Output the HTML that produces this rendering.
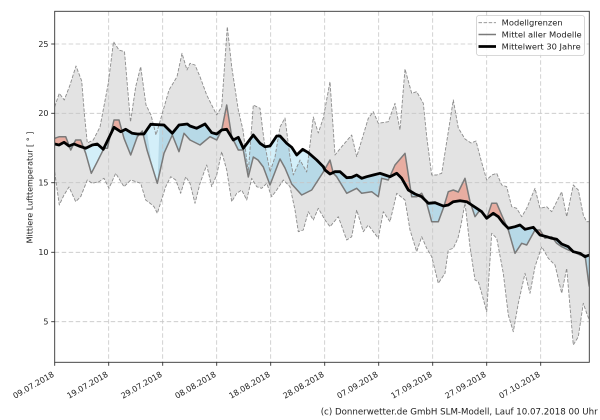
<!DOCTYPE html>
<html>
<head>
<meta charset="utf-8">
<style>
html,body{margin:0;padding:0;background:#fff;}
svg{display:block;}
text{font-family:"DejaVu Sans","Liberation Sans",sans-serif;fill:#222;}
</style>
</head>
<body>
<svg width="600" height="420" viewBox="0 0 600 420" xmlns="http://www.w3.org/2000/svg">
<defs>
<clipPath id="plot"><rect x="54.7" y="11.3" width="534.6" height="351"/></clipPath>
<clipPath id="aboveClim"><polygon points="54.7,144 59,145 64,142.3 69,146 74,144 79,146 85.7,148.3 92.3,145 97.3,144 103.3,149.3 114,127.3 120.7,131.7 125.7,129.3 132.3,133.3 137.3,134 144,134 150.7,124.3 164,125 172.3,133.3 179,125 187.3,124 190,126 196.7,128.3 205,124 211.7,132.7 216.7,134 221.7,130 226.7,129.3 233.3,140 238.3,137.3 243.3,148.3 253.3,135 260,143.3 265,146.7 270,146 276.7,136 280,136 286.7,143.3 291.7,147.3 296.7,155 302.7,149.3 308.3,152.7 316.7,160 323.3,166.7 325,170 330,174 335,171.7 340,171.7 346.7,177.7 351.7,177.3 356.7,175 361.7,178.3 366.7,176.7 373.3,175 380,173.3 385,175 390,176.7 396.7,173.3 401.7,178.3 408.3,190 415,194 421.7,196.7 428.3,203.3 435,202.7 443.3,206 448.3,205 453.3,201.7 460,200.7 466.7,201.7 471.7,205 476.7,208.3 481.7,211.7 486.7,218.3 493.3,213.3 498.3,216.7 503.3,223.3 508.3,228.3 515,226.7 520,225 525,229.3 533.3,227.3 540,235 546.7,236.7 551.7,238.3 556.7,239.3 561.7,244 568.3,246.7 573.3,251.7 580,253.3 585,256.7 589.3,255 589.3,0 54.7,0"/></clipPath>
<clipPath id="belowClim"><polygon points="54.7,144 59,145 64,142.3 69,146 74,144 79,146 85.7,148.3 92.3,145 97.3,144 103.3,149.3 114,127.3 120.7,131.7 125.7,129.3 132.3,133.3 137.3,134 144,134 150.7,124.3 164,125 172.3,133.3 179,125 187.3,124 190,126 196.7,128.3 205,124 211.7,132.7 216.7,134 221.7,130 226.7,129.3 233.3,140 238.3,137.3 243.3,148.3 253.3,135 260,143.3 265,146.7 270,146 276.7,136 280,136 286.7,143.3 291.7,147.3 296.7,155 302.7,149.3 308.3,152.7 316.7,160 323.3,166.7 325,170 330,174 335,171.7 340,171.7 346.7,177.7 351.7,177.3 356.7,175 361.7,178.3 366.7,176.7 373.3,175 380,173.3 385,175 390,176.7 396.7,173.3 401.7,178.3 408.3,190 415,194 421.7,196.7 428.3,203.3 435,202.7 443.3,206 448.3,205 453.3,201.7 460,200.7 466.7,201.7 471.7,205 476.7,208.3 481.7,211.7 486.7,218.3 493.3,213.3 498.3,216.7 503.3,223.3 508.3,228.3 515,226.7 520,225 525,229.3 533.3,227.3 540,235 546.7,236.7 551.7,238.3 556.7,239.3 561.7,244 568.3,246.7 573.3,251.7 580,253.3 585,256.7 589.3,255 589.3,420 54.7,420"/></clipPath>
<clipPath id="aboveUpper"><polygon points="54.7,106.7 59.3,93.3 64.3,100 70,85 76,66 81.7,81 84.5,115 87.3,143 93.3,140 100,127 108.3,83.3 113.5,41.7 119,50 124.5,51.7 130.5,122 135.7,86.7 140.7,66.7 146,105 151,115 156,135 161,118 169,90 177,76.7 182,53.3 187,70 190,63.3 195,65 200,76.7 206.7,95 216.7,115 221.7,106.7 227.3,26.7 231.7,66.7 238.3,110 243,130 248.3,172 253.3,105 260,108.3 264,140 270,172 275,157 280,127 285,118 290,157 293.3,175 300,160 306.7,172 313.3,117 318.3,133 323.3,118 330,81.7 335,155 341.7,146.7 351.7,135 356.7,156.7 368.3,118.3 373.3,111.7 378.3,123.3 388.3,121.7 395,103.3 400,130 405,69 411.7,93.3 416.7,91.7 423.3,103.3 426.7,136.7 431.7,175 436.7,175 441.7,173.3 448.3,131.7 453.3,100 458.3,128 465,139 471,143 476,141 481,160 486.7,180 491.7,175 496.7,173.3 501.7,185 506.7,186.7 511.7,206.7 516.7,208.3 521.7,216.7 526.7,208.3 535,188.3 540,208.3 546.7,206.7 551.7,211.7 561.7,191.7 566.7,216.7 573.3,185 578.3,190 583.3,215 586.7,221.7 589.3,221.7 589.3,0 54.7,0"/></clipPath>
<clipPath id="lightMask">
<rect x="84" y="0" width="23" height="420"/>
<polygon points="144,110 160,110 157.5,185 151,160"/>
</clipPath>
</defs>

<!-- gray model band -->
<g clip-path="url(#plot)">
<polygon fill="#e3e3e3" points="54.7,106.7 59.3,93.3 64.3,100 70,85 76,66 81.7,81 84.5,115 87.3,143 93.3,140 100,127 108.3,83.3 113.5,41.7 119,50 124.5,51.7 130.5,122 135.7,86.7 140.7,66.7 146,105 151,115 156,135 161,118 169,90 177,76.7 182,53.3 187,70 190,63.3 195,65 200,76.7 206.7,95 216.7,115 221.7,106.7 227.3,26.7 231.7,66.7 238.3,110 243,130 248.3,172 253.3,105 260,108.3 264,140 270,172 275,157 280,127 285,118 290,157 293.3,175 300,160 306.7,172 313.3,117 318.3,133 323.3,118 330,81.7 335,155 341.7,146.7 351.7,135 356.7,156.7 368.3,118.3 373.3,111.7 378.3,123.3 388.3,121.7 395,103.3 400,130 405,69 411.7,93.3 416.7,91.7 423.3,103.3 426.7,136.7 431.7,175 436.7,175 441.7,173.3 448.3,131.7 453.3,100 458.3,128 465,139 471,143 476,141 481,160 486.7,180 491.7,175 496.7,173.3 501.7,185 506.7,186.7 511.7,206.7 516.7,208.3 521.7,216.7 526.7,208.3 535,188.3 540,208.3 546.7,206.7 551.7,211.7 561.7,191.7 566.7,216.7 573.3,185 578.3,190 583.3,215 586.7,221.7 589.3,221.7 589.3,320 586.7,313.3 583.3,303.3 578.3,336.7 573.3,345 570,306.7 566.7,268.3 561.7,293.3 555,265 548.3,258.3 541.7,246.7 535,266.7 530,293.3 525,273.3 518.3,303.3 513.3,331.7 508.3,315 503.3,273.3 496.7,238.3 491.7,233.3 486.7,311.7 481.7,293.3 478.3,281.7 475,280 470,246.7 465,203 461,225 458,238 453.3,248.3 448.3,250 445,273.3 438.3,283.3 431.7,256.7 426.7,248.3 421.7,236.7 416.7,251.7 410,230 405,200 396.7,193.3 390,221.7 383.3,211.7 378.3,238.3 368.3,225 363.3,231.7 356.7,210 351.7,236.7 346.7,240 338.3,216.7 330,226.7 325,220 318.3,208.3 313.3,220 308.3,211.7 303.3,230 298.3,231.7 295,210 290,186.7 283.3,180 276.7,190 271.7,196.7 266.7,183.3 261.7,188.3 256.7,186.7 251.7,178.3 246.7,200 241.7,190 236.7,193.3 231.7,201.7 226.7,170 221.7,151.7 216.7,175 211.7,186.7 206.7,165 200,183.3 195,203.3 190,183.3 185.7,176.7 180.7,193.3 175.7,180 170.7,176.7 165.7,186.7 157.3,213.3 154,206.7 151,204 145.7,200 140.7,183.3 130.7,180 124,186.7 115.7,173.3 109,188.3 104,178.3 99,181.7 92.3,183.3 87.3,180 80.7,196.7 75.7,201.7 69,187 64,195 59.3,205 54.7,172"/>

<!-- red: model mean above climatology -->
<g clip-path="url(#aboveClim)">
<polygon fill="#e8ada1" points="54.7,138.3 59.3,136.7 65.7,136.7 70.7,150 75.7,140 80.7,140 85.7,153.3 91.3,173.3 97.3,161.7 104,148.3 107.3,148.3 114,120 119,120 124,138.3 130.7,155 137.3,136.7 142.3,131 147,150 157.3,183.3 164,153.3 172.3,135 179,151.7 184,133.3 190,140 200,145 210,136.7 216.7,140 221.7,130 226.7,105 231.7,136.7 238.3,150 243.3,150 248.3,177 253.3,157 258,160 263.3,167 270,185 280,159 285,168 291.7,184 301.7,195 311.7,190 323.3,172 330,160 333.3,173.3 336.7,176.7 346.7,193.3 356.7,188.3 361.7,193.3 371.7,191.7 378.3,196.7 381.7,178.3 388.3,180 395,165 405,153.3 411.7,196.7 416.7,196.7 421.7,193.3 426.7,203.3 431.7,221.7 438.3,221.7 443.3,208.3 448.3,191.7 453.3,190 458.3,192 465,178.3 470,201.7 475,216.7 480,210 486.7,218.3 491.7,203.3 496.7,203.3 501.7,215 508.3,230 515,253.3 521.7,243.3 526.7,245 535,230 540,230 545,238.3 551.7,236.7 556.7,243.3 561.7,246.7 568.3,250 573.3,251.7 580,255 585,255 588.3,280 589.3,286.7 589.3,420 54.7,420"/>
</g>
<!-- blue: model mean below climatology -->
<g clip-path="url(#belowClim)">
<polygon fill="#b7d9e7" points="54.7,138.3 59.3,136.7 65.7,136.7 70.7,150 75.7,140 80.7,140 85.7,153.3 91.3,173.3 97.3,161.7 104,148.3 107.3,148.3 114,120 119,120 124,138.3 130.7,155 137.3,136.7 142.3,131 147,150 157.3,183.3 164,153.3 172.3,135 179,151.7 184,133.3 190,140 200,145 210,136.7 216.7,140 221.7,130 226.7,105 231.7,136.7 238.3,150 243.3,150 248.3,177 253.3,157 258,160 263.3,167 270,185 280,159 285,168 291.7,184 301.7,195 311.7,190 323.3,172 330,160 333.3,173.3 336.7,176.7 346.7,193.3 356.7,188.3 361.7,193.3 371.7,191.7 378.3,196.7 381.7,178.3 388.3,180 395,165 405,153.3 411.7,196.7 416.7,196.7 421.7,193.3 426.7,203.3 431.7,221.7 438.3,221.7 443.3,208.3 448.3,191.7 453.3,190 458.3,192 465,178.3 470,201.7 475,216.7 480,210 486.7,218.3 491.7,203.3 496.7,203.3 501.7,215 508.3,230 515,253.3 521.7,243.3 526.7,245 535,230 540,230 545,238.3 551.7,236.7 556.7,243.3 561.7,246.7 568.3,250 573.3,251.7 580,255 585,255 588.3,280 589.3,286.7 589.3,0 54.7,0"/>
</g>
<!-- light blue portions (blue outside model band) -->
<g clip-path="url(#belowClim)">
<g clip-path="url(#lightMask)">
<polygon fill="#d3eff9" points="54.7,138.3 59.3,136.7 65.7,136.7 70.7,150 75.7,140 80.7,140 85.7,153.3 91.3,173.3 97.3,161.7 104,148.3 107.3,148.3 114,120 119,120 124,138.3 130.7,155 137.3,136.7 142.3,131 147,150 157.3,183.3 164,153.3 172.3,135 179,151.7 184,133.3 190,140 200,145 589.3,145 589.3,0 54.7,0"/>
</g>
</g>
<g clip-path="url(#belowClim)">
<g clip-path="url(#aboveUpper)">
<rect x="54.7" y="11.3" width="534.6" height="351" fill="#d3eff9"/>
</g>
</g>
</g>

<!-- grid -->
<g stroke="#c6c6c6" stroke-width="0.8" stroke-dasharray="4.5,2.5" fill="none">
<line x1="54.7" y1="44" x2="589.3" y2="44"/>
<line x1="54.7" y1="113.3" x2="589.3" y2="113.3"/>
<line x1="54.7" y1="182.7" x2="589.3" y2="182.7"/>
<line x1="54.7" y1="252.3" x2="589.3" y2="252.3"/>
<line x1="54.7" y1="321.7" x2="589.3" y2="321.7"/>
<line x1="108.7" y1="11.3" x2="108.7" y2="362.3"/>
<line x1="162.7" y1="11.3" x2="162.7" y2="362.3"/>
<line x1="216.7" y1="11.3" x2="216.7" y2="362.3"/>
<line x1="270.7" y1="11.3" x2="270.7" y2="362.3"/>
<line x1="324.7" y1="11.3" x2="324.7" y2="362.3"/>
<line x1="378.7" y1="11.3" x2="378.7" y2="362.3"/>
<line x1="432.7" y1="11.3" x2="432.7" y2="362.3"/>
<line x1="486.7" y1="11.3" x2="486.7" y2="362.3"/>
<line x1="540.7" y1="11.3" x2="540.7" y2="362.3"/>
</g>

<g clip-path="url(#plot)" fill="none" stroke-linejoin="round">
<!-- model bounds -->
<polyline stroke="#8c8c8c" stroke-width="0.9" stroke-dasharray="3.5,1.6" points="54.7,106.7 59.3,93.3 64.3,100 70,85 76,66 81.7,81 84.5,115 87.3,143 93.3,140 100,127 108.3,83.3 113.5,41.7 119,50 124.5,51.7 130.5,122 135.7,86.7 140.7,66.7 146,105 151,115 156,135 161,118 169,90 177,76.7 182,53.3 187,70 190,63.3 195,65 200,76.7 206.7,95 216.7,115 221.7,106.7 227.3,26.7 231.7,66.7 238.3,110 243,130 248.3,172 253.3,105 260,108.3 264,140 270,172 275,157 280,127 285,118 290,157 293.3,175 300,160 306.7,172 313.3,117 318.3,133 323.3,118 330,81.7 335,155 341.7,146.7 351.7,135 356.7,156.7 368.3,118.3 373.3,111.7 378.3,123.3 388.3,121.7 395,103.3 400,130 405,69 411.7,93.3 416.7,91.7 423.3,103.3 426.7,136.7 431.7,175 436.7,175 441.7,173.3 448.3,131.7 453.3,100 458.3,128 465,139 471,143 476,141 481,160 486.7,180 491.7,175 496.7,173.3 501.7,185 506.7,186.7 511.7,206.7 516.7,208.3 521.7,216.7 526.7,208.3 535,188.3 540,208.3 546.7,206.7 551.7,211.7 561.7,191.7 566.7,216.7 573.3,185 578.3,190 583.3,215 586.7,221.7 589.3,221.7"/>
<polyline stroke="#8c8c8c" stroke-width="0.9" stroke-dasharray="3.5,1.6" points="54.7,172 59.3,205 64,195 69,187 75.7,201.7 80.7,196.7 87.3,180 92.3,183.3 99,181.7 104,178.3 109,188.3 115.7,173.3 124,186.7 130.7,180 140.7,183.3 145.7,200 151,204 154,206.7 157.3,213.3 165.7,186.7 170.7,176.7 175.7,180 180.7,193.3 185.7,176.7 190,183.3 195,203.3 200,183.3 206.7,165 211.7,186.7 216.7,175 221.7,151.7 226.7,170 231.7,201.7 236.7,193.3 241.7,190 246.7,200 251.7,178.3 256.7,186.7 261.7,188.3 266.7,183.3 271.7,196.7 276.7,190 283.3,180 290,186.7 295,210 298.3,231.7 303.3,230 308.3,211.7 313.3,220 318.3,208.3 325,220 330,226.7 338.3,216.7 346.7,240 351.7,236.7 356.7,210 363.3,231.7 368.3,225 378.3,238.3 383.3,211.7 390,221.7 396.7,193.3 405,200 410,230 416.7,251.7 421.7,236.7 426.7,248.3 431.7,256.7 438.3,283.3 445,273.3 448.3,250 453.3,248.3 458,238 461,225 465,203 470,246.7 475,280 478.3,281.7 481.7,293.3 486.7,311.7 491.7,233.3 496.7,238.3 503.3,273.3 508.3,315 513.3,331.7 518.3,303.3 525,273.3 530,293.3 535,266.7 541.7,246.7 548.3,258.3 555,265 561.7,293.3 566.7,268.3 570,306.7 573.3,345 578.3,336.7 583.3,303.3 586.7,313.3 589.3,320"/>
<!-- mean of models -->
<polyline stroke="#7a7a7a" stroke-width="1.5" points="54.7,138.3 59.3,136.7 65.7,136.7 70.7,150 75.7,140 80.7,140 85.7,153.3 91.3,173.3 97.3,161.7 104,148.3 107.3,148.3 114,120 119,120 124,138.3 130.7,155 137.3,136.7 142.3,131 147,150 157.3,183.3 164,153.3 172.3,135 179,151.7 184,133.3 190,140 200,145 210,136.7 216.7,140 221.7,130 226.7,105 231.7,136.7 238.3,150 243.3,150 248.3,177 253.3,157 258,160 263.3,167 270,185 280,159 285,168 291.7,184 301.7,195 311.7,190 323.3,172 330,160 333.3,173.3 336.7,176.7 346.7,193.3 356.7,188.3 361.7,193.3 371.7,191.7 378.3,196.7 381.7,178.3 388.3,180 395,165 405,153.3 411.7,196.7 416.7,196.7 421.7,193.3 426.7,203.3 431.7,221.7 438.3,221.7 443.3,208.3 448.3,191.7 453.3,190 458.3,192 465,178.3 470,201.7 475,216.7 480,210 486.7,218.3 491.7,203.3 496.7,203.3 501.7,215 508.3,230 515,253.3 521.7,243.3 526.7,245 535,230 540,230 545,238.3 551.7,236.7 556.7,243.3 561.7,246.7 568.3,250 573.3,251.7 580,255 585,255 588.3,280 589.3,286.7"/>
<!-- 30 year mean -->
<polyline stroke="#000" stroke-width="2.8" points="54.7,144 59,145 64,142.3 69,146 74,144 79,146 85.7,148.3 92.3,145 97.3,144 103.3,149.3 114,127.3 120.7,131.7 125.7,129.3 132.3,133.3 137.3,134 144,134 150.7,124.3 164,125 172.3,133.3 179,125 187.3,124 190,126 196.7,128.3 205,124 211.7,132.7 216.7,134 221.7,130 226.7,129.3 233.3,140 238.3,137.3 243.3,148.3 253.3,135 260,143.3 265,146.7 270,146 276.7,136 280,136 286.7,143.3 291.7,147.3 296.7,155 302.7,149.3 308.3,152.7 316.7,160 323.3,166.7 325,170 330,174 335,171.7 340,171.7 346.7,177.7 351.7,177.3 356.7,175 361.7,178.3 366.7,176.7 373.3,175 380,173.3 385,175 390,176.7 396.7,173.3 401.7,178.3 408.3,190 415,194 421.7,196.7 428.3,203.3 435,202.7 443.3,206 448.3,205 453.3,201.7 460,200.7 466.7,201.7 471.7,205 476.7,208.3 481.7,211.7 486.7,218.3 493.3,213.3 498.3,216.7 503.3,223.3 508.3,228.3 515,226.7 520,225 525,229.3 533.3,227.3 540,235 546.7,236.7 551.7,238.3 556.7,239.3 561.7,244 568.3,246.7 573.3,251.7 580,253.3 585,256.7 589.3,255"/>
</g>

<!-- spines -->
<rect x="54.7" y="11.3" width="534.6" height="351" fill="none" stroke="#333" stroke-width="0.9"/>

<!-- ticks -->
<g stroke="#333" stroke-width="0.9">
<line x1="51.2" y1="44" x2="54.7" y2="44"/>
<line x1="51.2" y1="113.3" x2="54.7" y2="113.3"/>
<line x1="51.2" y1="182.7" x2="54.7" y2="182.7"/>
<line x1="51.2" y1="252.3" x2="54.7" y2="252.3"/>
<line x1="51.2" y1="321.7" x2="54.7" y2="321.7"/>
<line x1="54.7" y1="362.3" x2="54.7" y2="365.8"/>
<line x1="108.7" y1="362.3" x2="108.7" y2="365.8"/>
<line x1="162.7" y1="362.3" x2="162.7" y2="365.8"/>
<line x1="216.7" y1="362.3" x2="216.7" y2="365.8"/>
<line x1="270.7" y1="362.3" x2="270.7" y2="365.8"/>
<line x1="324.7" y1="362.3" x2="324.7" y2="365.8"/>
<line x1="378.7" y1="362.3" x2="378.7" y2="365.8"/>
<line x1="432.7" y1="362.3" x2="432.7" y2="365.8"/>
<line x1="486.7" y1="362.3" x2="486.7" y2="365.8"/>
<line x1="540.7" y1="362.3" x2="540.7" y2="365.8"/>
</g>

<!-- y tick labels -->
<g font-size="8" text-anchor="end">
<text x="48.5" y="46.9">25</text>
<text x="48.5" y="116.2">20</text>
<text x="48.5" y="185.6">15</text>
<text x="48.5" y="255.2">10</text>
<text x="48.5" y="324.6">5</text>
</g>

<!-- x tick labels -->
<g font-size="8" text-anchor="end">
<text transform="translate(54.7,376) rotate(-30)">09.07.2018</text>
<text transform="translate(108.7,376) rotate(-30)">19.07.2018</text>
<text transform="translate(162.7,376) rotate(-30)">29.07.2018</text>
<text transform="translate(216.7,376) rotate(-30)">08.08.2018</text>
<text transform="translate(270.7,376) rotate(-30)">18.08.2018</text>
<text transform="translate(324.7,376) rotate(-30)">28.08.2018</text>
<text transform="translate(378.7,376) rotate(-30)">07.09.2018</text>
<text transform="translate(432.7,376) rotate(-30)">17.09.2018</text>
<text transform="translate(486.7,376) rotate(-30)">27.09.2018</text>
<text transform="translate(540.7,376) rotate(-30)">07.10.2018</text>
</g>

<!-- y axis label -->
<text font-size="8" text-anchor="middle" transform="translate(32.3,187.5) rotate(-90)">Mittlere Lufttemperatur [ ° ]</text>

<!-- copyright -->
<text x="320.7" y="414.5" font-size="8.7" textLength="277" lengthAdjust="spacingAndGlyphs">(c) Donnerwetter.de GmbH SLM-Modell, Lauf 10.07.2018 00 Uhr</text>

<!-- legend -->
<rect x="476.5" y="15.5" width="108" height="40" rx="2.5" ry="2.5" fill="#fff" fill-opacity="0.85" stroke="#cccccc" stroke-width="0.8"/>
<line x1="478.5" y1="22.7" x2="496" y2="22.7" stroke="#8c8c8c" stroke-width="0.9" stroke-dasharray="3.5,1.6"/>
<line x1="478.5" y1="34.5" x2="496" y2="34.5" stroke="#7a7a7a" stroke-width="1.5"/>
<line x1="478.5" y1="46.5" x2="496" y2="46.5" stroke="#000" stroke-width="2.8"/>
<g font-size="8">
<text x="501.7" y="25.6" textLength="61" lengthAdjust="spacingAndGlyphs">Modellgrenzen</text>
<text x="501.7" y="37.4" textLength="80" lengthAdjust="spacingAndGlyphs">Mittel aller Modelle</text>
<text x="501.7" y="49.4" textLength="79" lengthAdjust="spacingAndGlyphs">Mittelwert 30 Jahre</text>
</g>
</svg>
</body>
</html>
